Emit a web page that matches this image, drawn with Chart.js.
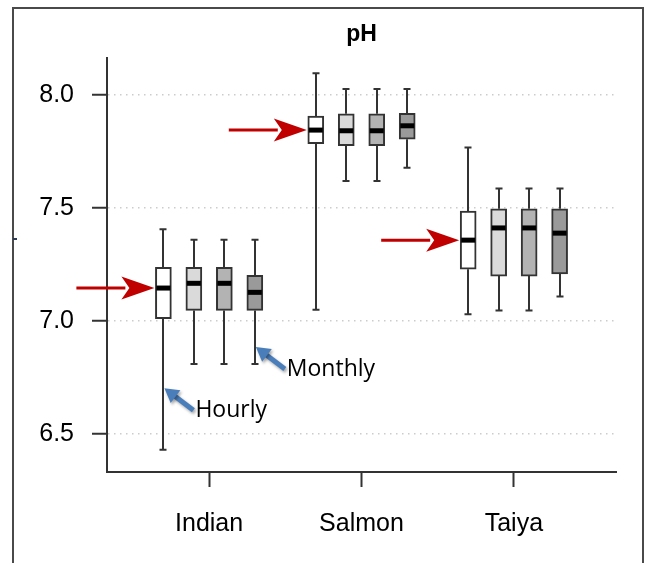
<!DOCTYPE html>
<html>
<head>
<meta charset="utf-8">
<script src="https://cdn.jsdelivr.net/npm/chart.js@4.4.0/dist/chart.umd.min.js"></script>
<style>
  html,body{margin:0;padding:0;background:#fff;overflow:hidden}
  #wrap{position:relative;width:646px;height:563px}
  #frame{position:absolute;left:12px;top:7px;width:628px;height:600px;border:2px solid #4a4a4a;border-bottom:none}
  #nick{position:absolute;left:13px;top:238px;width:4px;height:2px;background:#2b3a55}
  canvas{position:absolute;left:0;top:0}
</style>
</head>
<body>
<div id="wrap">
  <div id="frame"></div>
  <div id="nick"></div>
  <canvas id="c" width="646" height="563"></canvas>
</div>
<script>
// sites along the x axis
const groups = ['Indian', 'Salmon', 'Taiya'];
const yTicks = [6.5, 7.0, 7.5, 8.0];

// five-number summaries per site: [low whisker, Q1, median, Q3, high whisker]
const hourly  = [[6.43, 7.01, 7.146, 7.238, 7.406], [7.05, 7.785, 7.845, 7.907, 8.097], [7.03, 7.229, 7.358, 7.487, 7.768]];
const daily   = [[6.81, 7.047, 7.167, 7.238, 7.36], [7.62, 7.776, 7.842, 7.917, 8.027], [7.047, 7.199, 7.412, 7.497, 7.587]];
const weekly  = [[6.81, 7.047, 7.167, 7.238, 7.36], [7.62, 7.776, 7.842, 7.917, 8.027], [7.047, 7.199, 7.412, 7.497, 7.587]];
const monthly = [[6.81, 7.047, 7.127, 7.202, 7.36], [7.678, 7.805, 7.864, 7.919, 8.027], [7.109, 7.208, 7.389, 7.497, 7.587]];

const seriesNames = ['Hourly', 'Daily', 'Weekly', 'Monthly'];
const seriesStats = [hourly, daily, weekly, monthly];
const fills = ['#ffffff', '#dadada', '#b3b3b3', '#9a9a9a'];

// callouts: label, site index, series index, pH value the arrow points at
const notes = [
  {text: 'Hourly', group: 0, series: 0, value: 6.703},
  {text: 'Monthly', group: 0, series: 3, value: 6.885}
];

const OFFS = [-0.3, -0.1, 0.1, 0.3];
const INK = '#333';

const datasets = seriesStats.map((st, s) => ({
  label: seriesNames[s],
  data: st.map((r, g) => ({x: g + 1 + OFFS[s], y: [r[1], r[3]]})),
  backgroundColor: fills[s],
  borderColor: INK,
  borderWidth: 2,
  borderSkipped: false,
  grouped: false,
  maxBarThickness: 16,
  barPercentage: 1,
  categoryPercentage: 1
}));

function redArrow(ctx, tx, ty) {
  const len = 78, hl = 33, hw = 11.5;
  ctx.save();
  ctx.strokeStyle = '#c00000'; ctx.fillStyle = '#c00000';
  ctx.lineWidth = 3;
  ctx.beginPath(); ctx.moveTo(tx - len, ty); ctx.lineTo(tx - hl + 4, ty); ctx.stroke();
  ctx.beginPath();
  ctx.moveTo(tx, ty);
  ctx.lineTo(tx - hl, ty - hw);
  ctx.lineTo(tx - hl + 8, ty);
  ctx.lineTo(tx - hl, ty + hw);
  ctx.closePath(); ctx.fill();
  ctx.restore();
}

function blueArrow(ctx, tx, ty, sx, sy) {
  const a = Math.atan2(ty - sy, tx - sx);
  const hl = 14, hw = 8;
  ctx.save();
  ctx.shadowColor = 'rgba(0,0,0,0.35)'; ctx.shadowBlur = 3;
  ctx.shadowOffsetX = 1.5; ctx.shadowOffsetY = 2;
  ctx.strokeStyle = '#4a7ebb'; ctx.fillStyle = '#4a7ebb';
  ctx.lineWidth = 5; ctx.lineCap = 'butt';
  const bx = tx - Math.cos(a) * (hl - 2), by = ty - Math.sin(a) * (hl - 2);
  ctx.beginPath(); ctx.moveTo(sx, sy); ctx.lineTo(bx, by); ctx.stroke();
  ctx.beginPath();
  ctx.moveTo(tx, ty);
  ctx.lineTo(tx - Math.cos(a) * hl - Math.sin(a) * hw, ty - Math.sin(a) * hl + Math.cos(a) * hw);
  ctx.lineTo(tx - Math.cos(a) * hl + Math.sin(a) * hw, ty - Math.sin(a) * hl - Math.cos(a) * hw);
  ctx.closePath(); ctx.fill();
  ctx.restore();
}

const boxParts = {
  id: 'boxParts',
  beforeDatasetsDraw(chart) {
    const ctx = chart.ctx, y = chart.scales.y;
    ctx.save();
    ctx.strokeStyle = INK; ctx.lineWidth = 2;
    seriesStats.forEach((st, s) => {
      chart.getDatasetMeta(s).data.forEach((el, g) => {
        const r = st[g], x = Math.round(el.x);
        ctx.beginPath();
        ctx.moveTo(x, y.getPixelForValue(r[0])); ctx.lineTo(x, y.getPixelForValue(r[1]));
        ctx.moveTo(x, y.getPixelForValue(r[3])); ctx.lineTo(x, y.getPixelForValue(r[4]));
        [r[0], r[4]].forEach(v => {
          const py = y.getPixelForValue(v);
          ctx.moveTo(x - 3.5, py); ctx.lineTo(x + 3.5, py);
        });
        ctx.stroke();
      });
    });
    ctx.restore();
  },
  afterDatasetsDraw(chart) {
    const ctx = chart.ctx, y = chart.scales.y, a = chart.chartArea;
    // medians
    ctx.save();
    ctx.fillStyle = '#000';
    seriesStats.forEach((st, s) => {
      chart.getDatasetMeta(s).data.forEach((el, g) => {
        const py = y.getPixelForValue(st[g][2]);
        ctx.fillRect(el.x - el.width / 2 + 1, py - 2.5, el.width - 2, 5);
      });
    });
    ctx.restore();
    // red pointers to hourly medians
    chart.getDatasetMeta(0).data.forEach((el, g) => {
      redArrow(ctx, el.x - el.width / 2 - 1, y.getPixelForValue(hourly[g][2]));
    });
    // blue callouts
    notes.forEach(n => {
      const el = chart.getDatasetMeta(n.series).data[n.group];
      const tx = el.x, ty = y.getPixelForValue(n.value);
      const sx = tx + 30, sy = ty + 22;
      blueArrow(ctx, tx + 1, ty, sx, sy);
      ctx.save();
      ctx.fillStyle = '#000';
      ctx.font = '23px "Open Sans"';
      ctx.textAlign = 'left'; ctx.textBaseline = 'alphabetic';
      ctx.fillText(n.text, sx + 2, sy + 7);
      ctx.restore();
    });
    // title
    ctx.save();
    ctx.fillStyle = '#000';
    ctx.font = 'bold 23px "Liberation Sans", Arial';
    ctx.textAlign = 'center'; ctx.textBaseline = 'alphabetic';
    ctx.fillText('pH', (a.left + a.right) / 2, 41);
    ctx.restore();
  }
};

new Chart(document.getElementById('c'), {
  type: 'bar',
  data: {datasets},
  plugins: [boxParts],
  options: {
    responsive: false,
    devicePixelRatio: 1,
    animation: false,
    layout: {padding: {left: 0, top: 58, right: 30, bottom: 0}},
    plugins: {legend: {display: false}, tooltip: {enabled: false}, title: {display: false}},
    scales: {
      x: {
        type: 'linear', min: 0.33, max: 3.67, offset: false,
        afterBuildTicks: s => { s.ticks = groups.map((_, i) => ({value: i + 1})); },
        afterFit: s => { s.height = 91; },
        grid: {offset: false, drawOnChartArea: false, drawTicks: true, tickLength: 15, tickColor: INK, tickWidth: 2},
        border: {color: INK, width: 2},
        ticks: {
          padding: 22, color: '#000', maxRotation: 0, autoSkip: false,
          font: {family: '"Liberation Sans", Arial', size: 25},
          callback: v => groups[Math.round(v) - 1] || ''
        }
      },
      y: {
        min: 6.332, max: 8.164,
        afterBuildTicks: s => { s.ticks = yTicks.map(v => ({value: v})); },
        afterFit: s => { s.width = 107; },
        grid: {color: '#cccccc', lineWidth: 1.5, drawTicks: true, tickLength: 15, tickColor: INK, tickWidth: 2, tickBorderDash: []},
        border: {color: INK, width: 2, dash: [1.5, 4.5]},
        ticks: {
          padding: 18, color: '#000',
          font: {family: '"Liberation Sans", Arial', size: 25},
          callback: v => v.toFixed(1)
        }
      }
    }
  }
});
</script>
</body>
</html>
